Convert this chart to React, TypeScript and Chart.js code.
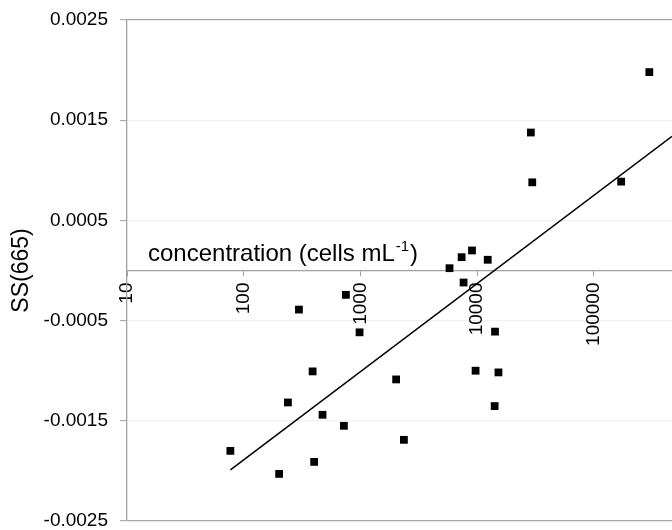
import React, { useEffect, useRef } from "react";
import { Chart, registerables } from "chart.js";

Chart.register(...registerables);

// concentration (cells mL-1) of each sample
const concentration = [
  298000, 28800, 29600, 171000, 9020, 7350, 12300, 5790, 7640, 750, 297, 982,
  389, 2020, 239, 473, 721, 2355, 76.8, 201, 401, 14200, 9680, 15200, 14100,
];
// SS(665) of each sample
const ss665 = [
  0.00198, 0.001377, 0.00088, 0.000887, 0.0002, 0.000133, 0.000107, 0.000023,
  -0.00012, -0.000243, -0.00039, -0.000617, -0.001007, -0.001087, -0.001317,
  -0.00144, -0.00155, -0.00169, -0.0018, -0.00203, -0.00191, -0.00061, -0.001,
  -0.001017, -0.001353,
];
// trend line end points
const trendX = [76.9, 466000];
const trendY = [-0.00199, 0.00134];

const xTicks = [10, 100, 1000, 10000, 100000];
const yTicks = [-0.0025, -0.0015, -0.0005, 0.0005, 0.0015, 0.0025];
const xMin = 10;
const xMax = 466000;
const yMin = -0.0025;
const yMax = 0.0025;

const xTitleMain = "concentration (cells mL";
const xTitleSup = "-1";
const xTitleEnd = ")";
const yTitle = "SS(665)";

const FONT = "'Liberation Sans', Arial, sans-serif";
const AXIS_GREY = "#a0a0a0";

// let the plot area run to the right edge of the canvas
const stretchPlugin = {
  id: "stretchPlugin",
  afterLayout(chart: any) {
    const ca = chart.chartArea;
    const target = chart.width;
    if (ca.right < target) {
      ca.right = target;
      ca.width = ca.right - ca.left;
      const xs = chart.scales.x;
      xs.right = target;
      xs.width = xs.right - xs.left;
      xs.configure();
    }
  },
};

const xTitlePlugin = {
  id: "xTitlePlugin",
  afterDraw(chart: any) {
    const ctx = chart.ctx;
    const area = chart.chartArea;
    const y0 = chart.scales.y.getPixelForValue(0);
    const x = area.left + 21;
    const base = y0 - 10;
    ctx.save();
    ctx.fillStyle = "#000";
    ctx.textBaseline = "alphabetic";
    ctx.textAlign = "left";
    ctx.font = `24px ${FONT}`;
    ctx.fillText(xTitleMain, x, base);
    const w1 = ctx.measureText(xTitleMain).width;
    ctx.font = `15px ${FONT}`;
    ctx.fillText(xTitleSup, x + w1 + 1, base - 10);
    const w2 = ctx.measureText(xTitleSup).width;
    ctx.font = `24px ${FONT}`;
    ctx.fillText(xTitleEnd, x + w1 + w2 + 2, base);
    ctx.restore();
  },
};

export default function App() {
  const ref = useRef<HTMLCanvasElement | null>(null);

  useEffect(() => {
    if (!ref.current) return;
    const points = concentration.map((c, i) => ({ x: c, y: ss665[i] }));
    const trend = trendX.map((c, i) => ({ x: c, y: trendY[i] }));
    const chart = new Chart(ref.current, {
      type: "scatter",
      data: {
        datasets: [
          {
            type: "line",
            data: trend,
            borderColor: "#000",
            borderWidth: 1.5,
            pointRadius: 0,
            fill: false,
            showLine: true,
          } as any,
          {
            type: "scatter",
            data: points,
            pointStyle: "rect",
            pointRadius: 5.5,
            pointBorderWidth: 0,
            backgroundColor: "#000",
            borderColor: "#000",
          } as any,
        ],
      },
      options: {
        animation: false,
        responsive: false,
        maintainAspectRatio: false,
        devicePixelRatio: 1,
        layout: { padding: { top: 20, right: 0, bottom: 9, left: 0 } },
        plugins: { legend: { display: false }, tooltip: { enabled: false } },
        scales: {
          x: {
            type: "logarithmic",
            min: xMin,
            max: xMax,
            position: { y: 0 } as any,
            afterBuildTicks: (s: any) => {
              s.ticks = xTicks.map((v) => ({ value: v }));
            },
            afterFit: (s: any) => {
              s.height = 0;
              s.paddingLeft = 0;
              s.paddingRight = 0;
              s.paddingTop = 0;
              s.paddingBottom = 0;
            },
            grid: {
              drawOnChartArea: false,
              drawTicks: true,
              tickLength: 5,
              tickColor: AXIS_GREY,
              tickWidth: 1,
            },
            border: { color: AXIS_GREY, width: 1.3 },
            ticks: {
              minRotation: 90,
              maxRotation: 90,
              autoSkip: false,
              padding: 7,
              color: "#000",
              font: { size: 19, family: FONT },
              callback: (v: any) => String(v),
            },
          },
          y: {
            type: "linear",
            min: yMin,
            max: yMax,
            afterBuildTicks: (s: any) => {
              s.ticks = yTicks.map((v) => ({ value: v }));
            },
            afterFit: (s: any) => {
              s.width = 127;
              s.paddingTop = 0;
              s.paddingBottom = 0;
              s.paddingLeft = 0;
              s.paddingRight = 0;
            },
            grid: {
              color: (c: any) =>
                c.tick && Math.abs(Math.abs(c.tick.value) - 0.0025) < 1e-9
                  ? "#a6a6a6"
                  : "#f1f1f1",
              lineWidth: 1.3,
              tickLength: 7,
              tickColor: AXIS_GREY,
              tickWidth: 1,
            },
            border: { color: AXIS_GREY, width: 1.3 },
            ticks: {
              padding: 12,
              color: "#000",
              font: { size: 19, family: FONT },
              callback: (v: any) => Number(v).toFixed(4),
            },
            title: {
              display: true,
              text: yTitle,
              color: "#000",
              font: { size: 23, family: FONT },
              padding: 8,
            },
          },
        },
      } as any,
      plugins: [stretchPlugin, xTitlePlugin],
    });
    return () => chart.destroy();
  }, []);

  return (
    <div
      style={{
        position: "absolute",
        left: 0,
        top: 0,
        width: 672,
        height: 530,
        background: "#fff",
        overflow: "hidden",
      }}
    >
      <canvas
        ref={ref}
        width={672}
        height={530}
        style={{ display: "block", width: 672, height: 530 }}
      />
    </div>
  );
}
